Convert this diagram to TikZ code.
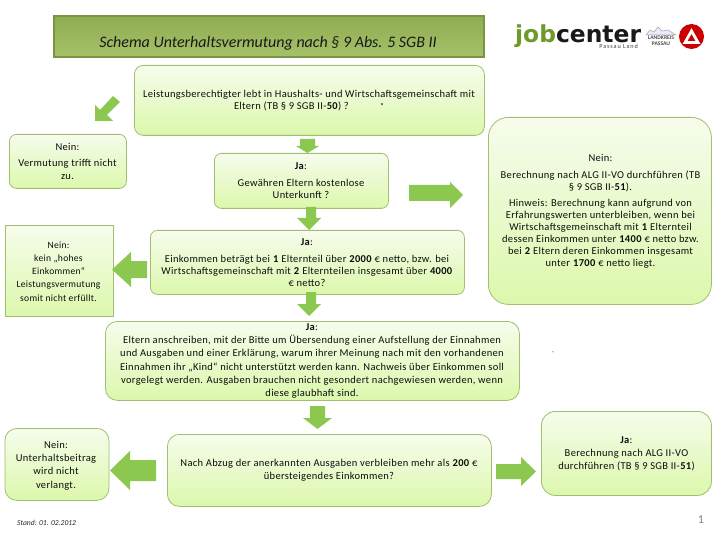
\documentclass[tikz,border=0pt]{standalone}
\usepackage{fontspec}
\setmainfont{Carlito}
\newfontfamily\logofont{DejaVu Sans}
\definecolor{boxline}{HTML}{A3BD72}
\definecolor{boxtop}{HTML}{F6FCEC}
\definecolor{boxbot}{HTML}{DCF8AC}
\definecolor{arrowgreen}{HTML}{8CC850}
\definecolor{titlefill}{HTML}{9BBB59}
\definecolor{titleline}{HTML}{7A9444}
\definecolor{jobgreen}{HTML}{6F9A2A}
\tikzset{
  x=1pt,y=-1pt,
  gbox/.style={draw=boxline,line width=0.8pt,top color=boxtop,bottom color=boxbot,anchor=north west,inner sep=0pt,rounded corners=#1},
  gbox/.default=9pt,
  txt/.style={font=\fontsize{10.5}{#1}\selectfont\addfontfeatures{LetterSpace=3},align=center,inner sep=0pt,text=black!95},
  txt/.default=12.6,
  blockarrow/.style={fill=arrowgreen},
}
\begin{document}
\begin{tikzpicture}
\useasboundingbox (0,0) rectangle (720,540);
\fill[white] (0,0) rectangle (720,540);
% title
\node[draw=titleline,line width=2.4pt,top color=titlefill!92!black,bottom color=titlefill!90!white,anchor=north west,minimum width=430pt,minimum height=41pt,inner sep=0pt] (title) at (53,15) {};
\node[font=\fontsize{16}{18}\selectfont\itshape,text=black!90,inner sep=0pt] (titletext) at (268,43) {Schema Unterhaltsvermutung nach § 9 Abs. 5 SGB II};
% logo
\node[font=\logofont\bfseries\fontsize{23.4}{25}\selectfont,inner sep=0pt,anchor=base west] (logo) at (515,43) {\raisebox{0pt}[\height][0pt]{\textcolor{jobgreen}{job}\textcolor{black!90}{center}}};
\node[font=\fontsize{6.2}{7}\selectfont\addfontfeatures{LetterSpace=14},text=black!75,inner sep=0pt,anchor=base east] (passau) at (638,49) {Passau Land};
\draw[gray!70,line width=.5pt,fill=blue!8] (646,35) -- (650,30) -- (654,32) -- (658,27) -- (662,31) -- (668,30) -- (676,35) -- cycle;
\node[font=\fontsize{5.6}{6}\selectfont\bfseries,text=black!70,align=center,inner sep=0pt] (kreis) at (661,41) {LANDKREIS\\PASSAU};
\node[circle,fill=red!80!black,minimum size=25pt,inner sep=0pt] (ba) at (691.5,36.5) {};
\draw[white,line width=2.8pt,line join=miter] (ba.center) ++(-6.5,6) -- ++(6.5,-11.5) -- ++(6.5,11.5) -- cycle;
% boxes
\node[gbox=9pt,minimum width=350pt,minimum height=70pt] (q1) at (134,65) {};
\node[txt] (q1t) at (309,100.5) {Leistungsberechtigter lebt in Haushalts- und Wirtschaftsgemeinschaft mit\\Eltern (TB § 9 SGB II-\textbf{50}) ?\hspace{3em}\raisebox{1pt}{\scriptsize\textbf{*}}\hspace{9em}};
\node[gbox=7pt,minimum width=117pt,minimum height=54pt] (n1) at (9,134) {};
\node[txt] (n1t) at (67.5,161.5) {Nein:\\[3.5pt]Vermutung trifft nicht\\zu.};
\node[gbox=7pt,minimum width=174pt,minimum height=55pt] (j1) at (214,153) {};
\node[txt] (j1t) at (301,180.5) {\textbf{Ja}:\\[4.5pt]Gewähren Eltern kostenlose\\Unterkunft ?};
\node[gbox=20pt,minimum width=223pt,minimum height=187pt] (r1) at (488,117) {};
\node[txt=12.1] (r1t) at (600.5,211.5) {Nein:\\[5pt]Berechnung nach ALG II-VO durchführen (TB\\§ 9 SGB II-\textbf{51}).\\[3.5pt]Hinweis: Berechnung kann aufgrund von\\Erfahrungswerten unterbleiben, wenn bei\\Wirtschaftsgemeinschaft mit \textbf{1} Elternteil\\dessen Einkommen unter \textbf{1400} € netto bzw.\\bei \textbf{2} Eltern deren Einkommen insgesamt\\unter \textbf{1700} € netto liegt.};
\node[gbox=0pt,minimum width=108pt,minimum height=91pt] (n2) at (4.5,225) {};
\node[font=\fontsize{9.6}{13.2}\selectfont\addfontfeatures{LetterSpace=3},align=center,inner sep=0pt,text=black!95] (n2t) at (58.5,271.5) {Nein:\\kein „hohes\\Einkommen“\\Leistungsvermutung\\somit nicht erfüllt.};
\node[gbox=7pt,minimum width=314pt,minimum height=64pt] (j2) at (150,230) {};
\node[txt=12.1] (j2t) at (307,262.5) {\textbf{Ja}:\\[5pt]Einkommen beträgt bei \textbf{1} Elternteil über \textbf{2000} € netto, bzw. bei\\Wirtschaftsgemeinschaft mit \textbf{2} Elternteilen insgesamt  über \textbf{4000}\\€ netto?};
\node[gbox=12pt,minimum width=414pt,minimum height=79pt] (j3) at (105,321) {};
\node[txt=13.1] (j3t) at (312,361) {\textbf{Ja}:\\Eltern anschreiben, mit der Bitte um Übersendung einer Aufstellung der Einnahmen\\und Ausgaben und einer Erklärung, warum ihrer Meinung nach mit den vorhandenen\\Einnahmen ihr „Kind“ nicht unterstützt werden kann. Nachweis über Einkommen soll\\vorgelegt werden. Ausgaben brauchen nicht gesondert nachgewiesen werden, wenn\\diese glaubhaft sind.};
\node[gbox=12pt,minimum width=104pt,minimum height=72pt] (n3) at (4.5,428) {};
\node[txt=13.2] (n3t) at (56,465.5) {Nein:\\Unterhaltsbeitrag\\wird nicht\\verlangt.};
\node[gbox=12pt,minimum width=324pt,minimum height=72pt] (q2) at (167,434) {};
\node[txt] (q2t) at (329,470.5) {Nach Abzug der anerkannten Ausgaben verbleiben mehr als \textbf{200} €\\übersteigendes Einkommen?};
\node[gbox=14pt,minimum width=170pt,minimum height=84pt] (j4) at (541,411) {};
\node[txt=13] (j4t) at (626.5,454) {\textbf{Ja}:\\Berechnung nach ALG II-VO\\durchführen (TB § 9 SGB II-\textbf{51})};
% arrows
\fill[blockarrow] (95,121) -- (95,105) -- (100,110) -- (113,96) -- (120,102) -- (107,115) -- (113,121) -- cycle;
\fill[blockarrow] (300,139) -- (315,139) -- (315,146) -- (319,146) -- (307.5,153) -- (296,146) -- (300,146) -- cycle;
\fill[blockarrow] (306,207) -- (316,207) -- (316,218) -- (321,218) -- (309,230) -- (297,218) -- (306,218) -- cycle;
\fill[blockarrow] (306,292) -- (316,292) -- (316,304) -- (321,304) -- (309,316) -- (297,304) -- (306,304) -- cycle;
\fill[blockarrow] (310,406) -- (325,406) -- (325,418) -- (332,418) -- (317.5,429) -- (303,418) -- (310,418) -- cycle;
\fill[blockarrow] (147,261) -- (147,278) -- (131,278) -- (131,287) -- (112,269.5) -- (131,252) -- (131,261) -- cycle;
\fill[blockarrow] (409,185) -- (450,185) -- (450,182) -- (463,195) -- (450,208) -- (450,201) -- (409,201) -- cycle;
\fill[blockarrow] (156,460) -- (156,481) -- (130,481) -- (130,490) -- (110,470.5) -- (130,451) -- (130,460) -- cycle;
\fill[blockarrow] (496,464) -- (521,464) -- (521,457) -- (536,471.5) -- (521,486) -- (521,479) -- (496,479) -- cycle;
% footer
\node[font=\fontsize{7.6}{9}\selectfont\itshape,text=black!85,inner sep=0pt,anchor=west] (stand) at (17,523) {Stand: 01. 02.2012};
\node[font=\fontsize{12}{12}\selectfont,text=gray,inner sep=0pt] (page) at (701,520) {1};
\node[font=\fontsize{6}{6}\selectfont,text=gray,inner sep=0pt] (dot) at (553,353) {*};
\end{tikzpicture}
\end{document}
